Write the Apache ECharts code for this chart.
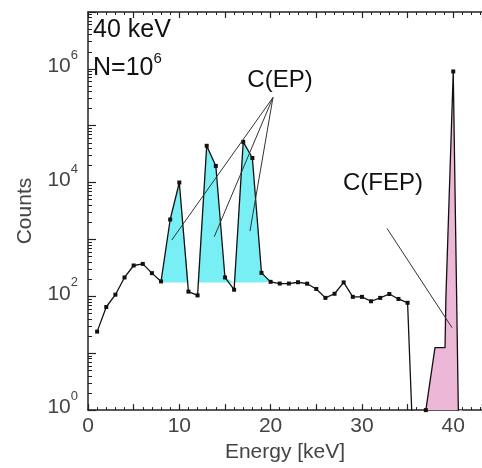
<!DOCTYPE html>
<html><head><meta charset="utf-8">
<script src="https://cdn.jsdelivr.net/npm/echarts@6/dist/echarts.min.js"></script>
<style>html,body{margin:0;padding:0;background:#fff}#c{width:482px;height:468px}</style>
</head><body><div id="c"></div>
<script>
// ---- data ----
const energy = [1,2,3,4,5,6,7,8,9,10,11,12,13,14,15,16,17,18,19,20,21,22,23,24,25,26,27,28,29,30,31,32,33,34,35,36];
const counts = [24,65,107,215,349,372,256,183,2244,10040,121,104,44400,19650,215,131,52100,27100,259,180,168,168,177,167,135,94,111,176,98,98,82,94,110,90,77,0.005];
const epBaseline = 176;
const epRange = [8, 20];
const fepEnergy = [37, 38, 39.1, 39.2, 40, 41];
const fepCounts = [1, 12.5, 12.5, 100, 900000, 0.00002];
const xTickLabels = [0, 10, 20, 30, 40];
const yLabelValues = [1, 1e2, 1e4, 1e6];
const yDecades = [1, 1e1, 1e2, 1e3, 1e4, 1e5, 1e6, 1e7];

const FONT = '"Liberation Sans", Arial, sans-serif';
const yAllTicks = [];
yDecades.forEach((d, i) => {
  yAllTicks.push(d);
  if (i < yDecades.length - 1) for (let k = 2; k <= 9; k++) yAllTicks.push(d * k);
});

const mainData = energy.map((e, i) => [e, counts[i]]);
const epData = energy.map((e, i) => [e, counts[i]])
  .filter(p => p[0] >= epRange[0] && p[0] <= epRange[1])
  .map(p => [p[0], Math.max(p[1], epBaseline)]);
const fepPeak = Math.max(...fepCounts);
const fepData = fepEnergy.map((e, i) => [e, fepCounts[i]]);

const chart = echarts.init(document.getElementById('c'), null, {renderer: 'canvas'});
const axisColor = '#222';
const xCommon = {
  type: 'value', min: 0, max: 43.15, interval: 5,
  axisLine: {show: true, onZero: false, lineStyle: {color: axisColor, width: 1.5}},
  axisTick: {show: true, inside: true, length: 6, lineStyle: {color: axisColor, width: 1.2}},
  minorTick: {show: true, splitNumber: 5, length: 3, lineStyle: {color: axisColor, width: 1}},
  splitLine: {show: false}, minorSplitLine: {show: false}
};
const yCommon = {
  type: 'log', logBase: 10, min: 1, max: 1e7, position: 'left',
  splitLine: {show: false}
};

chart.setOption({
  animation: false,
  backgroundColor: '#fff',
  grid: {left: 88, top: 12, right: 0, bottom: 55, containLabel: false},
  xAxis: [
    Object.assign({}, xCommon, {
      position: 'bottom',
      name: 'Energy [keV]', nameLocation: 'middle', nameGap: 31,
      nameTextStyle: {fontFamily: FONT, fontSize: 21, color: '#444'},
      axisLabel: {show: true, margin: 6, fontFamily: FONT, fontSize: 21, color: '#444',
        formatter: v => (xTickLabels.indexOf(v) >= 0 ? String(v) : ''), showMaxLabel: false}
    }),
    Object.assign({}, xCommon, {position: 'top', axisLabel: {show: false}})
  ],
  yAxis: [
    Object.assign({}, yCommon, {
      name: 'Counts', nameLocation: 'middle', nameGap: 52, nameRotate: 90,
      nameTextStyle: {fontFamily: FONT, fontSize: 21, color: '#444'},
      axisLine: {show: true, lineStyle: {color: axisColor, width: 1.5}},
      axisTick: {show: true, inside: true, length: 4, customValues: yAllTicks, lineStyle: {color: axisColor, width: 1}},
      axisLabel: {show: true, margin: 10, customValues: yLabelValues, color: '#444', padding: [0, 0, 12, 0],
        formatter: v => '{b|10}{s|' + Math.round(Math.log10(v)) + '}',
        rich: {
          b: {fontFamily: FONT, fontSize: 21, color: '#444', lineHeight: 28, verticalAlign: 'bottom'},
          s: {fontFamily: FONT, fontSize: 13, color: '#444', lineHeight: 28, verticalAlign: 'top'}
        }}
    }),
    Object.assign({}, yCommon, {
      axisLine: {show: false},
      axisTick: {show: true, inside: true, length: 8, customValues: yDecades, lineStyle: {color: axisColor, width: 1.2}},
      axisLabel: {show: false}
    })
  ],
  series: [
    {
      name: 'EP area', type: 'line', data: epData, xAxisIndex: 0, yAxisIndex: 0,
      symbol: 'none', lineStyle: {width: 0, opacity: 0},
      areaStyle: {origin: epBaseline, color: '#78EFF5', opacity: 1},
      silent: true, z: 1
    },
    {
      name: 'FEP', type: 'line', data: fepData, xAxisIndex: 0, yAxisIndex: 0,
      symbol: (val, p) => (p.dataIndex === 0 || val[1] === fepPeak) ? 'rect' : 'none',
      symbolSize: 4, showSymbol: true, showAllSymbol: true,
      itemStyle: {color: '#111'},
      lineStyle: {color: '#111', width: 1.3},
      areaStyle: {origin: 'start', color: '#EDB7D7', opacity: 1},
      z: 2
    },
    {
      name: 'Spectrum', type: 'line', data: mainData, xAxisIndex: 0, yAxisIndex: 0,
      symbol: 'rect', symbolSize: 4, showAllSymbol: true,
      itemStyle: {color: '#111'},
      lineStyle: {color: '#111', width: 1.3},
      z: 3,
      markLine: {
        silent: true, symbol: ['none', 'none'], animation: false,
        label: {show: false},
        lineStyle: {color: '#333', width: 1, type: 'solid'},
        data: [
          [{coord: [20.26, 314000]}, {coord: [9.17, 977]}],
          [{coord: [20.26, 314000]}, {coord: [13.83, 1119]}],
          [{coord: [20.26, 314000]}, {coord: [17.74, 1403]}],
          [{coord: [32.75, 1563]}, {coord: [39.87, 28.1]}]
        ]
      }
    }
  ],
  graphic: [
    {type: 'text', left: 93, top: 18, style: {text: '40 keV', fontFamily: FONT, fontSize: 25, fill: '#111'}},
    {type: 'text', left: 93, top: 51, style: {text: '{b|N=10}{s|6}', fontFamily: FONT, fontSize: 25, fill: '#111',
      rich: {b: {fontFamily: FONT, fontSize: 25, fill: '#111', lineHeight: 30, verticalAlign: 'bottom'},
             s: {fontFamily: FONT, fontSize: 15, fill: '#111', lineHeight: 30, verticalAlign: 'top'}}}},
    {type: 'text', x: 280, y: 80, style: {text: 'C(EP)', fontFamily: FONT, fontSize: 24, fill: '#111', align: 'center', verticalAlign: 'middle'}},
    {type: 'text', x: 383, y: 183, style: {text: 'C(FEP)', fontFamily: FONT, fontSize: 24, fill: '#111', align: 'center', verticalAlign: 'middle'}}
  ]
});
</script>
</body></html>
